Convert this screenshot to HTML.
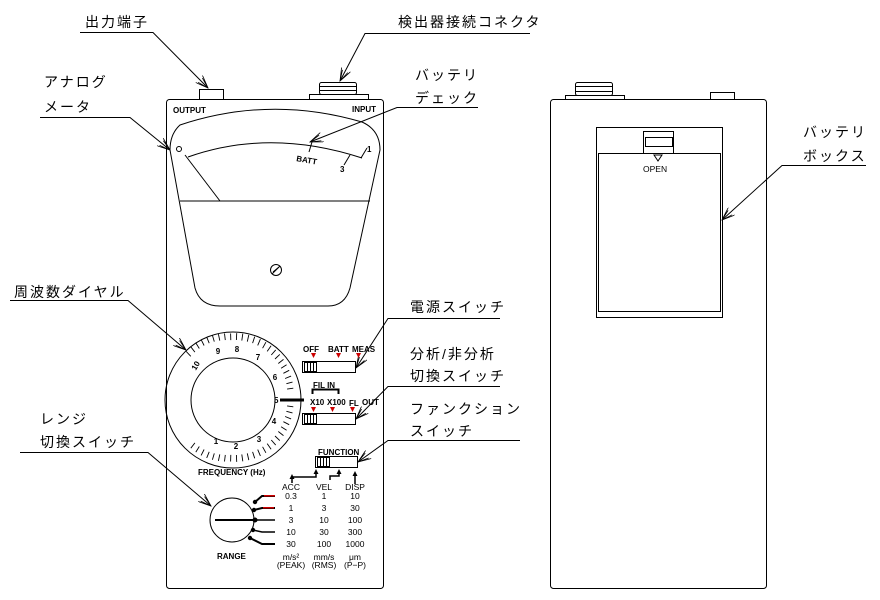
<!DOCTYPE html>
<html><head><meta charset="utf-8"><style>
body{margin:0;background:#fff}
svg{display:block}
.j{font-family:"Liberation Sans","Noto Sans CJK JP",sans-serif;font-size:14px;fill:#000;letter-spacing:2px}
.s{font-family:"Liberation Sans",sans-serif;font-size:8px;fill:#000;font-weight:bold}
.t{font-family:"Liberation Sans",sans-serif;font-size:8.5px;fill:#000}
</style></head><body>
<svg width="880" height="600" viewBox="0 0 880 600" xmlns="http://www.w3.org/2000/svg">
<defs>
<marker id="a" markerWidth="14" markerHeight="10" refX="13" refY="5" orient="auto" markerUnits="userSpaceOnUse">
<path d="M0,0 L13,5 L0,10 M2,2 L13,5 M2,8 L13,5" fill="none" stroke="#000" stroke-width="0.8"/></marker>
</defs>
<g fill="none" stroke="#000" stroke-width="1">
<rect x="166.5" y="99.5" width="217" height="489" rx="3"/>
<rect x="199.5" y="89.5" width="24" height="10"/>
<rect x="309.5" y="94.5" width="59" height="5"/>
<rect x="319.5" y="82.5" width="37" height="12" rx="2"/>
<line x1="320" y1="86.5" x2="356" y2="86.5"/><line x1="320" y1="90.5" x2="356" y2="90.5"/>
<path d="M180,125 Q270,95 362,122 Q380,130 380,150 L350,288 Q345,306 328,306 L220,306 Q200,306 195,288 L170,150 Q170,134 180,125 Z"/>
<line x1="180" y1="201" x2="370" y2="201"/>
<path d="M188,157 Q270,128 362,158"/>
<line x1="185" y1="155" x2="220" y2="201"/>
<circle cx="179" cy="149" r="2.5"/>
<line x1="312" y1="142" x2="309" y2="152"/>
<line x1="350" y1="155" x2="344" y2="165"/>
<line x1="361" y1="158" x2="367" y2="148"/>
<circle cx="276" cy="270" r="5.5"/><line x1="272" y1="274" x2="280" y2="266"/><line x1="273" y1="272" x2="279" y2="267"/>
<circle cx="233" cy="400" r="68"/>
<circle cx="233" cy="400" r="42"/>
<rect x="302.5" y="361.5" width="53" height="11"/>
<rect x="304.5" y="362.5" width="12" height="9"/>
<path d="M307.5,363v8M310.5,363v8M313.5,363v8"/>
<rect x="302.5" y="413.5" width="53" height="11"/>
<rect x="304.5" y="414.5" width="12" height="9"/>
<path d="M307.5,415v8M310.5,415v8M313.5,415v8"/>
<rect x="315.5" y="456.5" width="42" height="11"/>
<rect x="317.5" y="457.5" width="12" height="9"/>
<path d="M320.5,458v8M323.5,458v8M326.5,458v8"/>
<path d="M312.5,394 V389.5 H338.5 V394" stroke-width="2"/>
<line x1="280" y1="400" x2="304" y2="400" stroke-width="3"/>
<circle cx="232" cy="520" r="22"/>
<line x1="215" y1="520" x2="255" y2="520" stroke-width="2"/>
<path d="M255,502 L262,496 H275" stroke-width="2"/>
<path d="M254,510 L262,508 H275" stroke-width="2"/>
<line x1="255" y1="520" x2="275" y2="520" stroke-width="1.5"/>
<path d="M253,530 L262,532 H275" stroke-width="1.5"/>
<path d="M250,538 L262,544 H275" stroke-width="2"/>
<path d="M292,483 V477 H316 V472" stroke-width="1.5"/>
<path d="M330,480 V476 H339 V472" stroke-width="1.5"/>
<line x1="355" y1="484" x2="355" y2="473" stroke-width="1.5"/>
<rect x="550.5" y="99.5" width="216" height="489" rx="3"/>
<rect x="565.5" y="95.5" width="59" height="4"/>
<rect x="575.5" y="82.5" width="37" height="13" rx="2"/>
<line x1="576" y1="86.5" x2="612" y2="86.5"/><line x1="576" y1="91.5" x2="612" y2="91.5"/>
<rect x="710.5" y="92.5" width="24" height="7"/>
<rect x="596.5" y="127.5" width="126" height="190"/>
<rect x="598.5" y="153.5" width="122" height="158"/>
<path d="M643.5,153 V131.5 H673.5 V153"/>
<rect x="645.5" y="137.5" width="27" height="9"/>
<path d="M80,32.5 H153 L208,88" marker-end="url(#a)"/>
<path d="M530,33.5 H365 L340,81" marker-end="url(#a)"/>
<path d="M40,117.5 H130 L170,150" marker-end="url(#a)"/>
<path d="M478,107.5 H397 L310,142" marker-end="url(#a)"/>
<path d="M10,300.5 H128 L186,350" marker-end="url(#a)"/>
<path d="M500,318.5 H388 L356,368" marker-end="url(#a)"/>
<path d="M500,386.5 H388 L356,419" marker-end="url(#a)"/>
<path d="M520,440.5 H388 L358,462" marker-end="url(#a)"/>
<path d="M20,452.5 H148 L211,506" marker-end="url(#a)"/>
<path d="M866,165.5 H782 L722,220" marker-end="url(#a)"/>
</g>
<g fill="#c00">
<path d="M311,353 h5 l-2.5,5z M336,353 h5 l-2.5,5z M356,353 h5 l-2.5,5z"/>
<path d="M311,407 h5 l-2.5,5z M330,407 h5 l-2.5,5z M350,407 h5 l-2.5,5z"/>
</g>
<g fill="#000">
<path d="M289.5,479 l2.5,-5 l2.5,5z M313.5,474 l2.5,-5 l2.5,5z M336.5,474 l2.5,-5 l2.5,5z M352.5,476 l2.5,-5 l2.5,5z"/>
<circle cx="255" cy="502" r="2.2"/><circle cx="254" cy="510" r="2.2"/><circle cx="255" cy="520" r="2.5"/><circle cx="253" cy="530" r="2.2"/><circle cx="250" cy="538" r="2.2"/>
<path d="M654,155 h8 l-4,6z" fill="none" stroke="#000"/>
</g>
<g fill="#c00"><rect x="263" y="507" width="11" height="1.5"/><rect x="264" y="495" width="11" height="1.5"/></g>
<text class="j" x="85" y="27">出力端子</text>
<text class="j" x="398" y="27">検出器接続コネクタ</text>
<text class="j" x="44" y="87">アナログ</text>
<text class="j" x="44" y="112">メータ</text>
<text class="j" x="415" y="80">バッテリ</text>
<text class="j" x="415" y="103">デェック</text>
<text class="j" x="14" y="297">周波数ダイヤル</text>
<text class="j" x="410" y="312">電源スイッチ</text>
<text class="j" x="410" y="359">分析/非分析</text>
<text class="j" x="410" y="381">切換スイッチ</text>
<text class="j" x="410" y="414">ファンクション</text>
<text class="j" x="410" y="436">スイッチ</text>
<text class="j" x="40" y="424">レンジ</text>
<text class="j" x="40" y="447">切換スイッチ</text>
<text class="j" x="803" y="137">バッテリ</text>
<text class="j" x="803" y="161">ボックス</text>
<text class="s" x="173" y="113">OUTPUT</text>
<text class="s" x="352" y="112">INPUT</text>
<text class="s" x="296" y="161" transform="rotate(10 296 161)">BATT</text>
<text class="s" x="340" y="172">3</text>
<text class="s" x="367" y="152">1</text>
<text class="t" x="643" y="172">OPEN</text>
<text class="s" x="303" y="352">OFF</text>
<text class="s" x="328" y="352">BATT</text>
<text class="s" x="352" y="352">MEAS</text>
<text class="s" x="313" y="388">FIL IN</text>
<text class="s" x="310" y="405">X10</text>
<text class="s" x="327" y="405">X100</text>
<text class="s" x="349" y="406">FL</text>
<text class="s" x="362" y="405">OUT</text>
<text class="s" x="274" y="403">5</text>
<text class="s" x="318" y="455">FUNCTION</text>
<text class="s" x="198" y="475">FREQUENCY (Hz)</text>
<text class="s" x="217" y="559">RANGE</text>
<g class="t" text-anchor="middle">
<text x="291" y="490">ACC</text><text x="324" y="490">VEL</text><text x="355" y="490">DISP</text>
<text x="291" y="499">0.3</text><text x="324" y="499">1</text><text x="355" y="499">10</text>
<text x="291" y="511">1</text><text x="324" y="511">3</text><text x="355" y="511">30</text>
<text x="291" y="523">3</text><text x="324" y="523">10</text><text x="355" y="523">100</text>
<text x="291" y="535">10</text><text x="324" y="535">30</text><text x="355" y="535">300</text>
<text x="291" y="547">30</text><text x="324" y="547">100</text><text x="355" y="547">1000</text>
<text x="291" y="560">m/s²</text><text x="324" y="560">mm/s</text><text x="355" y="560">μm</text>
<text x="291" y="568">(PEAK)</text><text x="324" y="568">(RMS)</text><text x="355" y="568">(P−P)</text>
</g>
<g class="s" text-anchor="middle">
<text x="198" y="367" transform="rotate(-60 198 367)">10</text>
<text x="218" y="354">9</text>
<text x="237" y="352">8</text>
<text x="258" y="360">7</text>
<text x="275" y="380">6</text>
<text x="274" y="424">4</text>
<text x="259" y="442">3</text>
<text x="236" y="449">2</text>
<text x="216" y="444">1</text>
</g>
<g stroke="#000" stroke-width="0.9" fill="none">
<path d="
M186.2,351.4L190.8,356.3 M190.8,346.8L194.9,352.1 M195.8,342.9L199.3,348.5 M201.1,339.6L204.1,345.5 M206.7,337.1L209.2,343.2 M212.4,335.3L214.3,341.6 M218.4,334.1L219.8,340.6 M224.5,333.5L225.3,340.1 M230.6,333.5L230.8,340.1 M236.7,333.1L236.4,340.0 M242.8,333.7L241.8,340.6 M248.8,334.9L247.3,341.6 M254.7,336.7L252.6,343.1 M260.4,339.1L257.7,345.4 M265.9,342.2L262.6,348.2 M271.1,345.7L267.2,351.4 M275.7,349.9L271.3,355.0 M279.8,354.4L275.0,359.0 M283.5,359.4L278.3,363.5 M286.6,364.7L281.1,368.3 M289.2,370.3L283.4,373.3 M291.1,376.1L285.1,378.5 M292.5,382.1L286.4,383.7 M293.3,388.2L287.1,389.1 M293.3,406.8L287.1,405.9 M292.5,412.9L286.4,411.3 M291.1,418.9L285.1,416.5 M289.2,424.7L283.4,421.7 M286.6,430.3L281.1,426.7 M283.5,435.6L278.3,431.5 M279.8,440.6L275.0,436.0 M275.7,445.1L271.3,440.0 M271.1,449.3L267.2,443.6 M265.9,452.8L262.6,446.8 M260.4,455.9L257.7,449.6 M254.7,458.3L252.6,451.9 M248.8,460.1L247.3,453.4 M242.8,461.3L241.8,454.4 M236.7,461.9L236.4,455.0 M230.6,461.5L230.8,454.9 M224.5,461.5L225.3,454.9 M218.4,460.9L219.8,454.4 M212.4,459.7L214.3,453.4 M206.7,457.9L209.2,451.8 M201.1,455.4L204.1,449.5 M195.8,452.1L199.3,446.5 M190.8,448.2L194.9,442.9"/>
</g>
</svg>
</body></html>
